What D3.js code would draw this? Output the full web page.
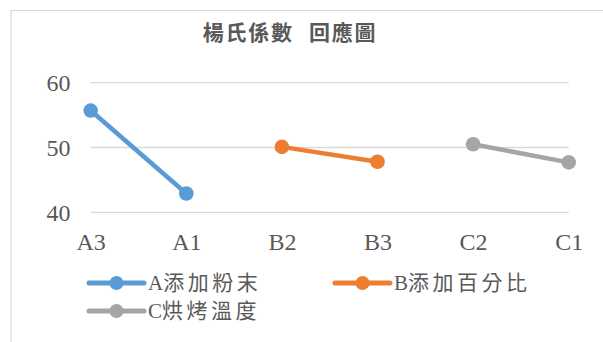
<!DOCTYPE html>
<html>
<head>
<meta charset="utf-8">
<script src="https://cdn.jsdelivr.net/npm/d3@7/dist/d3.min.js"></script>
<style>
    html, body { margin: 0; padding: 0; background: #fff; }
    svg { display: block; }
</style>
</head>
<body>
<svg id="chart" width="603" height="342"></svg>
<script>
    'use strict';

    var categories = ['A3', 'A1', 'B2', 'B3', 'C2', 'C1'];
    var yTicks = [40, 50, 60];
    var seriesNames = ['A添加粉末', 'B添加百分比', 'C烘烤溫度'];
    var seriesA = [55.7, 42.9, null, null, null, null];
    var seriesB = [null, null, 50.1, 47.8, null, null];
    var seriesC = [null, null, null, null, 50.5, 47.7];
    var colors = ['#5B9BD5', '#ED7D31', '#A5A5A5'];
    var title = '楊氏係數 回應圖';

    var LATIN = '"Liberation Serif", "Times New Roman", "Noto Sans CJK TC", serif';
    var TEXT_COLOR = '#595959';
    var GRID_COLOR = '#D9D9D9';

    var svg = d3.select('#chart');

    // chart area frame (right and bottom edges fall outside the window)
    svg.append('rect')
        .attr('x', 11).attr('y', 10.5)
        .attr('width', 620).attr('height', 360)
        .attr('fill', '#fff')
        .attr('stroke', GRID_COLOR)
        .attr('stroke-width', 1.2);

    var x = d3.scalePoint().domain(categories).range([90.7, 568.7]);
    var y = d3.scaleLinear().domain([40, 60]).range([212.3, 82.7]);

    // gridlines
    svg.append('g')
        .selectAll('line')
        .data(yTicks)
        .join('line')
        .attr('x1', x.range()[0]).attr('x2', x.range()[1])
        .attr('y1', function (d) { return y(d); })
        .attr('y2', function (d) { return y(d); })
        .attr('stroke', GRID_COLOR)
        .attr('stroke-width', 1.3);

    // y axis labels
    var yAxis = d3.axisLeft(y).tickValues(yTicks).tickSize(0).tickPadding(0);
    var gy = svg.append('g').attr('transform', 'translate(70.5,0)').call(yAxis);
    gy.select('.domain').remove();
    gy.selectAll('text')
        .attr('fill', TEXT_COLOR)
        .style('font-family', LATIN)
        .style('font-size', '24px')
        .attr('dy', '0.34em');

    // x axis labels
    var xAxis = d3.axisBottom(x).tickSize(0).tickPadding(0);
    var gx = svg.append('g').attr('transform', 'translate(0,233)').call(xAxis);
    gx.select('.domain').remove();
    gx.selectAll('text')
        .attr('fill', TEXT_COLOR)
        .style('font-family', LATIN)
        .style('font-size', '24px')
        .attr('dy', '0.7em');

    // series
    var allSeries = [seriesA, seriesB, seriesC];
    var line = d3.line()
        .defined(function (d) { return d.v !== null; })
        .x(function (d) { return x(d.c); })
        .y(function (d) { return y(d.v); });

    allSeries.forEach(function (values, i) {
        var pts = values.map(function (v, j) { return { c: categories[j], v: v }; });
        var g = svg.append('g');
        g.append('path')
            .datum(pts)
            .attr('d', line)
            .attr('fill', 'none')
            .attr('stroke', colors[i])
            .attr('stroke-width', 4.5)
            .attr('stroke-linecap', 'round');
        g.selectAll('circle')
            .data(pts.filter(function (d) { return d.v !== null; }))
            .join('circle')
            .attr('cx', function (d) { return x(d.c); })
            .attr('cy', function (d) { return y(d.v); })
            .attr('r', 7.3)
            .attr('fill', colors[i]);
    });

    // title
    var t = svg.append('text')
        .attr('x', 290).attr('y', 39.5)
        .attr('text-anchor', 'middle')
        .attr('fill', TEXT_COLOR)
        .style('font-family', '"Noto Sans CJK TC", sans-serif')
        .style('font-weight', 'bold')
        .style('font-size', '21px')
        .style('letter-spacing', '1.8px');
    var parts = title.split(' ');
    t.append('tspan').text(parts[0]);
    t.append('tspan').attr('dx', 15).text(parts[1]);

    // legend
    var legendPos = [
        { x: 89, y: 283 },
        { x: 335, y: 283 },
        { x: 89, y: 311 }
    ];
    seriesNames.forEach(function (name, i) {
        var p = legendPos[i];
        var g = svg.append('g').attr('transform', 'translate(' + p.x + ',' + p.y + ')');
        g.append('line')
            .attr('x1', 0).attr('x2', 55)
            .attr('y1', 0).attr('y2', 0)
            .attr('stroke', colors[i])
            .attr('stroke-width', 5)
            .attr('stroke-linecap', 'round');
        g.append('circle')
            .attr('cx', 27.5).attr('cy', 0)
            .attr('r', 7)
            .attr('fill', colors[i]);
        var txt = g.append('text')
            .attr('x', 59).attr('y', 0)
            .attr('dy', '0.35em')
            .attr('fill', TEXT_COLOR)
            .style('font-family', LATIN)
            .style('font-size', '21px');
        txt.append('tspan').text(name.charAt(0));
        txt.append('tspan')
            .style('letter-spacing', '3.5px')
            .text(name.slice(1));
    });
</script>
</body>
</html>
